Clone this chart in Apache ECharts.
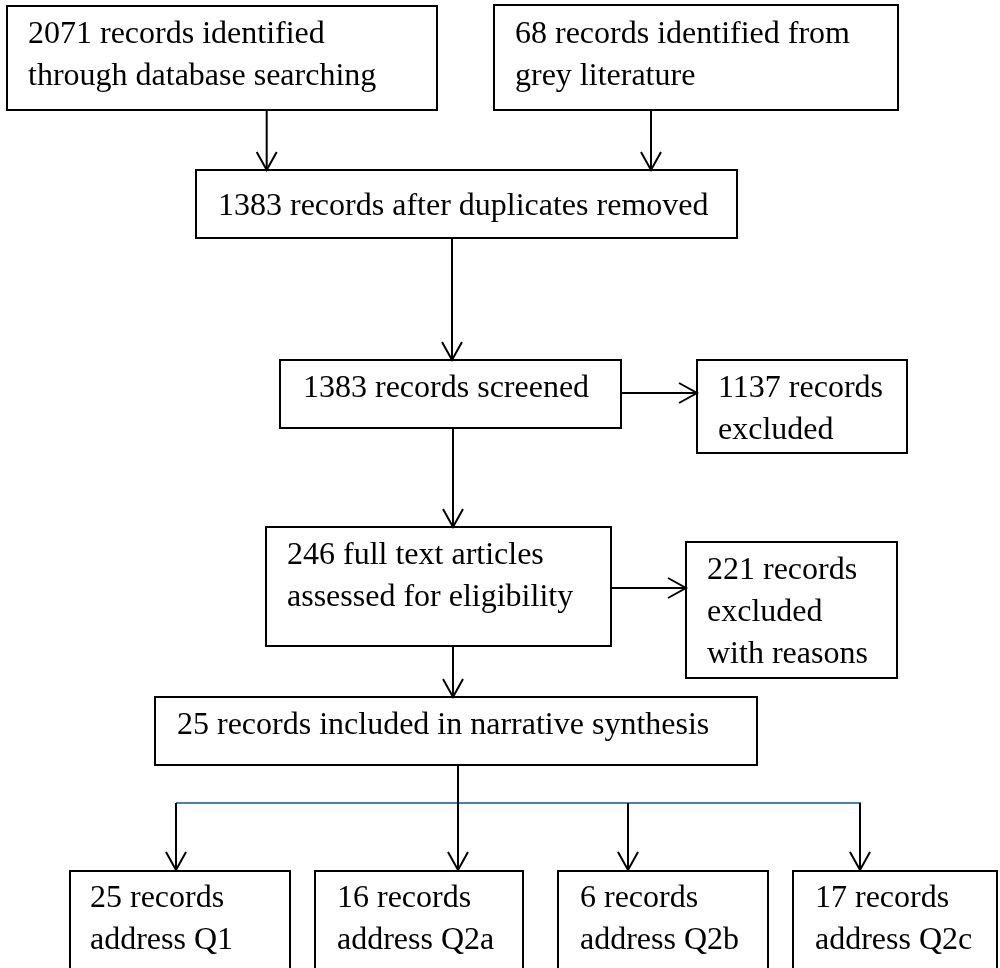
<!DOCTYPE html>
<html>
<head>
<meta charset="utf-8">
<script src="https://cdn.jsdelivr.net/npm/echarts@6/dist/echarts.min.js"></script>
<style>
  html, body { margin: 0; padding: 0; background: #ffffff; }
  #chart { width: 1000px; height: 968px; }
</style>
</head>
<body>
<div id="chart"></div>
<script>
// ---- data: record counts and box texts ({n} is replaced by the count) ----
const boxCounts = [2071, 68, 1383, 1383, 1137, 246, 221, 25, 25, 16, 6, 17];
const boxTexts = [
  '{n} records identified\nthrough database searching',
  '{n} records identified from\ngrey literature',
  '{n} records after duplicates removed',
  '{n} records screened',
  '{n} records\nexcluded',
  '{n} full text articles\nassessed for eligibility',
  '{n} records\nexcluded\nwith reasons',
  '{n} records included in narrative synthesis',
  '{n} records\naddress Q1',
  '{n} records\naddress Q2a',
  '{n} records\naddress Q2b',
  '{n} records\naddress Q2c'
];

// ---- layout (diagram units, y downward): box [x0, y0, x1, y1, textX, firstBaseline] ----
const boxLayout = [
  [7, 6, 437, 110, 28, 46],
  [494, 5, 898, 110, 515, 46],
  [196, 170, 737, 238, 218, 218],
  [280, 360, 621, 428, 303, 400],
  [697, 360, 907, 453, 718, 400],
  [266, 527, 611, 646, 287, 567],
  [686, 542, 897, 678, 707, 582],
  [155, 697, 757, 765, 177, 737],
  [70, 871, 290, 1010, 90, 910],
  [315, 871, 523, 1010, 337, 910],
  [558, 871, 768, 1010, 580, 910],
  [793, 871, 997, 1010, 815, 910]
];
// connectors [x1, y1, x2, y2, hasHead, colorIndex]
const connectorLayout = [
  [176, 803, 861, 803, 0, 1],
  [266.7, 110, 266.7, 170, 1, 0],
  [651, 110, 651, 170, 1, 0],
  [452, 238, 452, 360, 1, 0],
  [453, 428, 453, 527, 1, 0],
  [621, 393, 697, 393, 1, 0],
  [611, 588, 686, 588, 1, 0],
  [453, 646, 453, 697, 1, 0],
  [458, 765, 458, 870, 1, 0],
  [176, 803, 176, 870, 1, 0],
  [628, 803, 628, 870, 1, 0],
  [860, 803, 860, 870, 1, 0]
];
const connectorColors = ['#000000', '#4a7ebb'];
const FONT = '32px "Liberation Serif", "Times New Roman", serif';
const LINE_H = 42;

const chart = echarts.init(document.getElementById('chart'), null, { renderer: 'canvas' });

function renderBox(params, api) {
  const i = params.dataIndex;
  const L = boxLayout[i];
  const p0 = api.coord([L[0], L[1]]);
  const p1 = api.coord([L[2], L[3]]);
  const tp = api.coord([L[4], L[5]]);
  const text = boxTexts[i].replace('{n}', String(boxCounts[i]));
  return {
    type: 'group',
    children: [
      {
        type: 'rect',
        shape: { x: p0[0], y: p0[1], width: p1[0] - p0[0], height: p1[1] - p0[1] },
        style: { fill: '#ffffff', stroke: '#000000', lineWidth: 2 }
      },
      {
        type: 'text',
        x: tp[0],
        y: tp[1] - 32,
        style: {
          text: text,
          font: FONT,
          fill: '#000000',
          lineHeight: LINE_H,
          align: 'left',
          verticalAlign: 'top'
        }
      }
    ]
  };
}

function renderConnector(params, api) {
  const c = connectorLayout[params.dataIndex];
  const a = api.coord([c[0], c[1]]);
  const b = api.coord([c[2], c[3]]);
  const color = connectorColors[c[5]];
  const children = [{
    type: 'line',
    shape: { x1: a[0], y1: a[1], x2: b[0], y2: b[1] },
    style: { stroke: color, lineWidth: 2 }
  }];
  if (c[4]) {
    const dx = b[0] - a[0], dy = b[1] - a[1];
    const len = Math.sqrt(dx * dx + dy * dy);
    const ux = dx / len, uy = dy / len;
    const px = -uy, py = ux;
    const hl = 18, hw = 10;
    children.push({
      type: 'polyline',
      shape: { points: [
        [b[0] - ux * hl + px * hw, b[1] - uy * hl + py * hw],
        [b[0], b[1]],
        [b[0] - ux * hl - px * hw, b[1] - uy * hl - py * hw]
      ] },
      style: { stroke: color, lineWidth: 2, fill: null, lineJoin: 'miter' }
    });
  }
  return { type: 'group', children: children };
}

chart.setOption({
  animation: false,
  backgroundColor: '#ffffff',
  grid: { left: 0, right: 0, top: 0, bottom: 0, containLabel: false },
  xAxis: { type: 'value', min: 0, max: 1000, show: false },
  yAxis: { type: 'value', min: 0, max: 968, inverse: true, show: false },
  series: [
    {
      type: 'custom',
      coordinateSystem: 'cartesian2d',
      clip: false,
      renderItem: renderBox,
      data: boxCounts.map(function (c, i) { return [i, 0]; }),
      z: 2
    },
    {
      type: 'custom',
      coordinateSystem: 'cartesian2d',
      clip: false,
      renderItem: renderConnector,
      data: connectorLayout.map(function (c, i) { return [i, 0]; }),
      z: 3
    }
  ]
});
</script>
</body>
</html>
